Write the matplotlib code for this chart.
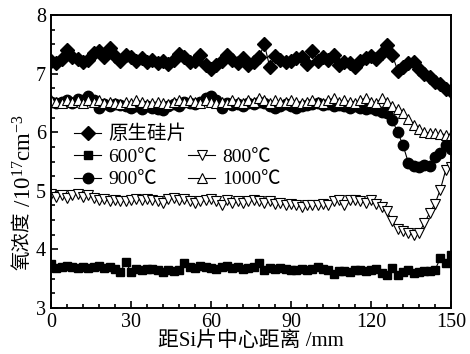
import numpy as np
import matplotlib
matplotlib.use("Agg")
import matplotlib.pyplot as plt
from matplotlib.lines import Line2D

plt.rcParams['font.family'] = ['Liberation Serif', 'Noto Sans CJK SC', 'DejaVu Sans']
plt.rcParams['mathtext.fontset'] = 'custom'
plt.rcParams['mathtext.rm'] = 'Liberation Serif'
plt.rcParams['mathtext.it'] = 'Liberation Serif:italic'

x = np.arange(0, 151, 2)

orig = [7.22, 7.18, 7.25, 7.40, 7.28, 7.25, 7.20, 7.24, 7.35, 7.38,
        7.28, 7.43, 7.30, 7.22, 7.32, 7.28, 7.22, 7.26, 7.20, 7.24,
        7.18, 7.22, 7.16, 7.24, 7.33, 7.28, 7.20, 7.22, 7.31, 7.14,
        7.08, 7.14, 7.22, 7.32, 7.24, 7.18, 7.26, 7.14, 7.20, 7.28,
        7.50, 7.12, 7.30, 7.24, 7.20, 7.22, 7.26, 7.28, 7.16, 7.38,
        7.22, 7.28, 7.24, 7.32, 7.15, 7.20, 7.18, 7.12, 7.22, 7.27,
        7.30, 7.25, 7.35, 7.48, 7.32, 7.05, 7.12, 7.18, 7.20, 7.08,
        7.00, 6.95, 6.86, 6.82, 6.74, 6.70]

t600 = [3.75, 3.68, 3.70, 3.72, 3.70, 3.68, 3.70, 3.68, 3.70, 3.72,
        3.68, 3.70, 3.66, 3.62, 3.78, 3.62, 3.66, 3.64, 3.67, 3.66,
        3.64, 3.62, 3.64, 3.63, 3.65, 3.76, 3.70, 3.68, 3.72, 3.70,
        3.68, 3.67, 3.70, 3.72, 3.68, 3.70, 3.66, 3.68, 3.70, 3.77,
        3.64, 3.68, 3.66, 3.68, 3.66, 3.65, 3.64, 3.66, 3.65, 3.66,
        3.70, 3.67, 3.64, 3.58, 3.63, 3.63, 3.62, 3.64, 3.64, 3.63,
        3.65, 3.66, 3.60, 3.56, 3.68, 3.57, 3.62, 3.64, 3.59, 3.62,
        3.63, 3.63, 3.65, 3.85, 3.77, 3.90]

t800 = [4.95, 4.90, 4.93, 4.88, 4.92, 4.95, 4.90, 4.92, 4.88, 4.85,
        4.86, 4.82, 4.84, 4.83, 4.82, 4.85, 4.86, 4.84, 4.86, 4.84,
        4.83, 4.80, 4.86, 4.88, 4.85, 4.86, 4.83, 4.80, 4.82, 4.84,
        4.86, 4.82, 4.76, 4.84, 4.80, 4.82, 4.80, 4.83, 4.84, 4.82,
        4.80, 4.82, 4.78, 4.80, 4.76, 4.78, 4.76, 4.72, 4.75, 4.76,
        4.75, 4.78, 4.76, 4.82, 4.85, 4.75, 4.84, 4.85, 4.82, 4.80,
        4.85, 4.78, 4.72, 4.65, 4.48, 4.35, 4.32, 4.28, 4.25, 4.28,
        4.45, 4.62, 4.78, 5.02, 5.35, 5.40]

t900 = [6.52, 6.50, 6.52, 6.55, 6.50, 6.56, 6.55, 6.62, 6.55, 6.42,
        6.48, 6.45, 6.48, 6.46, 6.44, 6.42, 6.44, 6.40, 6.45, 6.42,
        6.40, 6.38, 6.45, 6.48, 6.45, 6.52, 6.50, 6.48, 6.52, 6.58,
        6.62, 6.55, 6.42, 6.50, 6.46, 6.48, 6.45, 6.50, 6.48, 6.52,
        6.50, 6.45, 6.42, 6.45, 6.48, 6.45, 6.42, 6.45, 6.47, 6.48,
        6.50, 6.47, 6.48, 6.44, 6.46, 6.44, 6.42, 6.45, 6.42, 6.40,
        6.42, 6.38, 6.35, 6.32, 6.20, 6.00, 5.78, 5.48, 5.42, 5.40,
        5.44, 5.42, 5.58, 5.65, 5.78, 5.72]

t1000 = [6.55, 6.52, 6.50, 6.55, 6.52, 6.55, 6.50, 6.55, 6.52, 6.55,
         6.50, 6.52, 6.50, 6.48, 6.52, 6.50, 6.55, 6.52, 6.48, 6.50,
         6.52, 6.50, 6.48, 6.52, 6.55, 6.52, 6.55, 6.52, 6.50, 6.55,
         6.52, 6.50, 6.52, 6.50, 6.55, 6.52, 6.50, 6.55, 6.52, 6.58,
         6.55, 6.50, 6.55, 6.52, 6.52, 6.55, 6.52, 6.50, 6.52, 6.55,
         6.52, 6.50, 6.55, 6.58, 6.52, 6.55, 6.52, 6.50, 6.55, 6.58,
         6.52, 6.50, 6.58, 6.52, 6.45, 6.40, 6.32, 6.22, 6.12, 6.05,
         6.00, 5.98, 5.98, 5.97, 5.96, 5.95]

fig = plt.figure(figsize=(4.7, 3.54), dpi=100)
ax = fig.add_axes([51/470, 46/354, 400/470, 293/354])

lw = 0.8
h_orig, = ax.plot(x, orig, '-', color='black', lw=lw, marker='D', ms=7,
                  mfc='black', mec='black', label='原生硅片')
h600, = ax.plot(x, t600, '-', color='black', lw=lw, marker='s', ms=5.5,
                mfc='black', mec='black', label='600℃')
h800, = ax.plot(x, t800, '-', color='black', lw=lw, marker='v', ms=7,
                mfc='white', mec='black', mew=0.8, label='800℃')
h900, = ax.plot(x, t900, '-', color='black', lw=lw, marker='o', ms=7.5,
                mfc='black', mec='black', label='900℃')
h1000, = ax.plot(x, t1000, '-', color='black', lw=lw, marker='^', ms=7,
                 mfc='white', mec='black', mew=0.8, label='1000℃')

blank = Line2D([], [], linestyle='none', marker=None)
leg = ax.legend([h_orig, h600, h900, blank, h800, h1000],
                ['原生硅片', '600℃', '900℃', '', '800℃', '1000℃'],
                ncol=2, loc='upper left', bbox_to_anchor=(0.058, 0.625),
                frameon=False, fontsize=14, handlelength=1.4,
                handletextpad=0.35, labelspacing=0.25, columnspacing=0.1,
                borderaxespad=0, borderpad=0)

ax.set_xlim(0, 150)
ax.set_ylim(3, 8)
ax.set_xticks([0, 30, 60, 90, 120, 150])
ax.set_yticks([3, 4, 5, 6, 7, 8])
ax.set_xticks(np.arange(0, 151, 6), minor=True)
ax.set_yticks(np.arange(3, 8.01, 0.25), minor=True)
ax.tick_params(which='both', direction='in', top=False, right=False,
               labelsize=14.5, width=1.2)
ax.tick_params(which='major', length=5)
ax.tick_params(which='minor', length=3)
for s in ax.spines.values():
    s.set_linewidth(1.4)

ax.set_xlabel('距Si片中心距离 /mm', fontsize=15, labelpad=0)

# y label in two pieces so CJK glyphs and mathtext superscripts both render
t1 = fig.text(22/470, 1 - 270/354, '氧浓度', rotation=90, ha='center',
              va='bottom', fontsize=14, family=['Noto Sans CJK SC'])
fig.canvas.draw()
bb = t1.get_window_extent()
ytop = fig.transFigure.inverted().transform((0, bb.y1))[1]
fig.text(22/470 + 0.006, ytop, ' /10$^{17}$cm$^{-3}$', rotation=90, ha='center',
         va='bottom', fontsize=16.5)

fig.savefig('out.png', dpi=100)
